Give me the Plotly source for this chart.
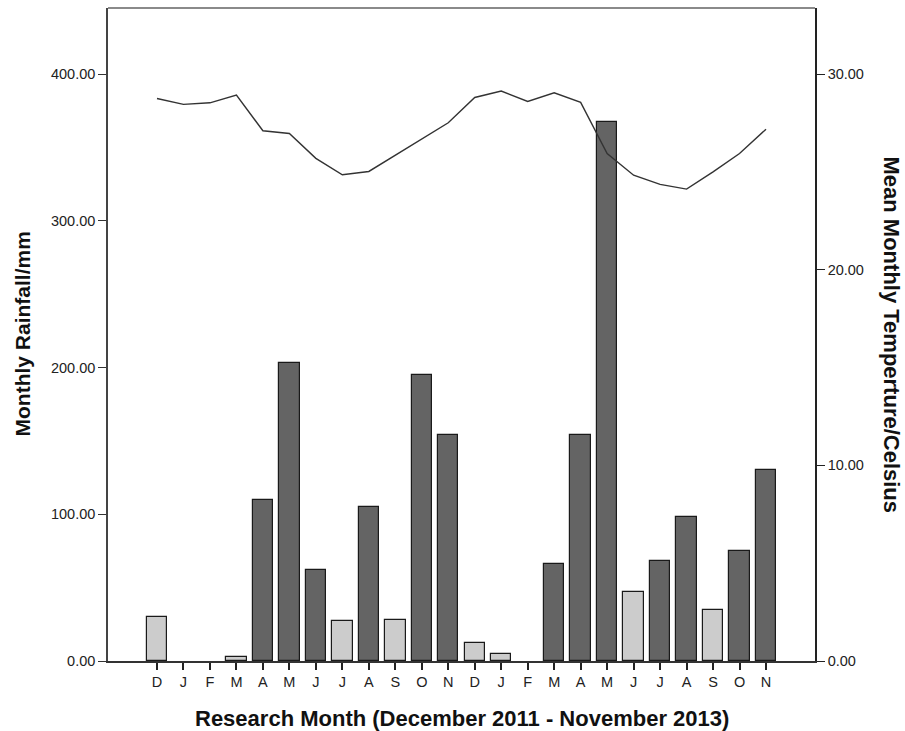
import plotly.graph_objects as go

# Monthly series, December 2011 - November 2013
months = ["D", "J", "F", "M", "A", "M", "J", "J", "A", "S", "O", "N",
          "D", "J", "F", "M", "A", "M", "J", "J", "A", "S", "O", "N"]
rainfall_mm = [30, 0, 0, 3, 110, 203, 62, 27, 105, 28, 195, 154,
               12, 5, 0, 66, 154, 367, 47, 68, 98, 35, 75, 130]
temperature_c = [28.75, 28.45, 28.53, 28.92, 27.10, 26.96, 25.69, 24.85, 25.02, 25.84, 26.69, 27.51,
                 28.80, 29.13, 28.60, 29.04, 28.55, 25.94, 24.83, 24.36, 24.12, 25.00, 25.94, 27.18]
rain_ticks = [0, 100, 200, 300, 400]
temp_ticks = [0, 10, 20, 30]

DRY_LIMIT = 60  # months below this rainfall are shaded light
bar_colors = ["#cccccc" if v < DRY_LIMIT else "#646464" for v in rainfall_mm]
# no outline on months with no rain, so nothing is drawn there
bar_outline = [1.2 if v > 0 else 0 for v in rainfall_mm]
xs = list(range(len(months)))

font = "Liberation Sans, Arial, sans-serif"
tick_font = dict(size=14.5, family=font, color="#222222")
title_font = dict(size=22, family=font, color="#111111")

fig = go.Figure()
fig.add_trace(go.Bar(
    x=xs, y=rainfall_mm, width=0.77,
    marker=dict(color=bar_colors, line=dict(color="#1a1a1a", width=bar_outline)),
    yaxis="y", showlegend=False, hoverinfo="skip",
))
fig.add_trace(go.Scatter(
    x=xs, y=temperature_c, mode="lines",
    line=dict(color="#333333", width=1.4),
    yaxis="y2", showlegend=False, hoverinfo="skip",
))

rain_top = 445
temp_top = rain_top * 30 / 400

fig.update_layout(
    width=905, height=731,
    margin=dict(l=108, r=90, t=8, b=70),
    plot_bgcolor="white", paper_bgcolor="white",
    font=dict(family=font, size=12, color="#222222"),
    bargap=0,
    xaxis=dict(
        range=[-1.85, len(months) - 1 + 1.85],
        tickvals=xs, ticktext=months,
        ticks="outside", ticklen=7, tickcolor="#222222", tickwidth=1.5,
        showline=True, linecolor="#333333", linewidth=1.5,
        showgrid=False, zeroline=False,
        tickfont=tick_font,
    ),
    yaxis=dict(
        range=[0, rain_top],
        tickvals=rain_ticks, ticktext=[f"{v:.2f}" for v in rain_ticks],
        ticks="outside", ticklen=8, tickcolor="#333333", tickwidth=1.2,
        showline=True, linecolor="#444444", linewidth=1.5,
        showgrid=False, zeroline=False,
        tickfont=tick_font,
    ),
    yaxis2=dict(
        range=[0, temp_top], overlaying="y", side="right",
        tickvals=temp_ticks, ticktext=[f"{v:.2f}" for v in temp_ticks],
        ticks="outside", ticklen=8, tickcolor="#222222", tickwidth=1.2,
        showline=True, linecolor="#222222", linewidth=1.5,
        showgrid=False, zeroline=False,
        tickfont=tick_font,
    ),
    shapes=[dict(type="line", xref="paper", yref="paper", x0=0, x1=1, y0=1, y1=1,
                 line=dict(color="#8a8a8a", width=2))],
    annotations=[
        dict(text="<b>Research Month (December 2011 - November 2013)</b>",
             xref="paper", yref="paper", x=0.5, y=0, yshift=-57,
             xanchor="center", yanchor="middle", showarrow=False,
             font=title_font),
        dict(text="<b>Monthly Rainfall/mm</b>", textangle=-90,
             xref="paper", yref="paper", x=0, y=0.5, xshift=-86,
             xanchor="center", yanchor="middle", showarrow=False,
             font=dict(title_font, size=21)),
        dict(text="<b>Mean Monthly Temperture/Celsius</b>", textangle=90,
             xref="paper", yref="paper", x=1, y=0.5, xshift=76,
             xanchor="center", yanchor="middle", showarrow=False,
             font=title_font),
    ],
)

fig.write_html("out.html")
